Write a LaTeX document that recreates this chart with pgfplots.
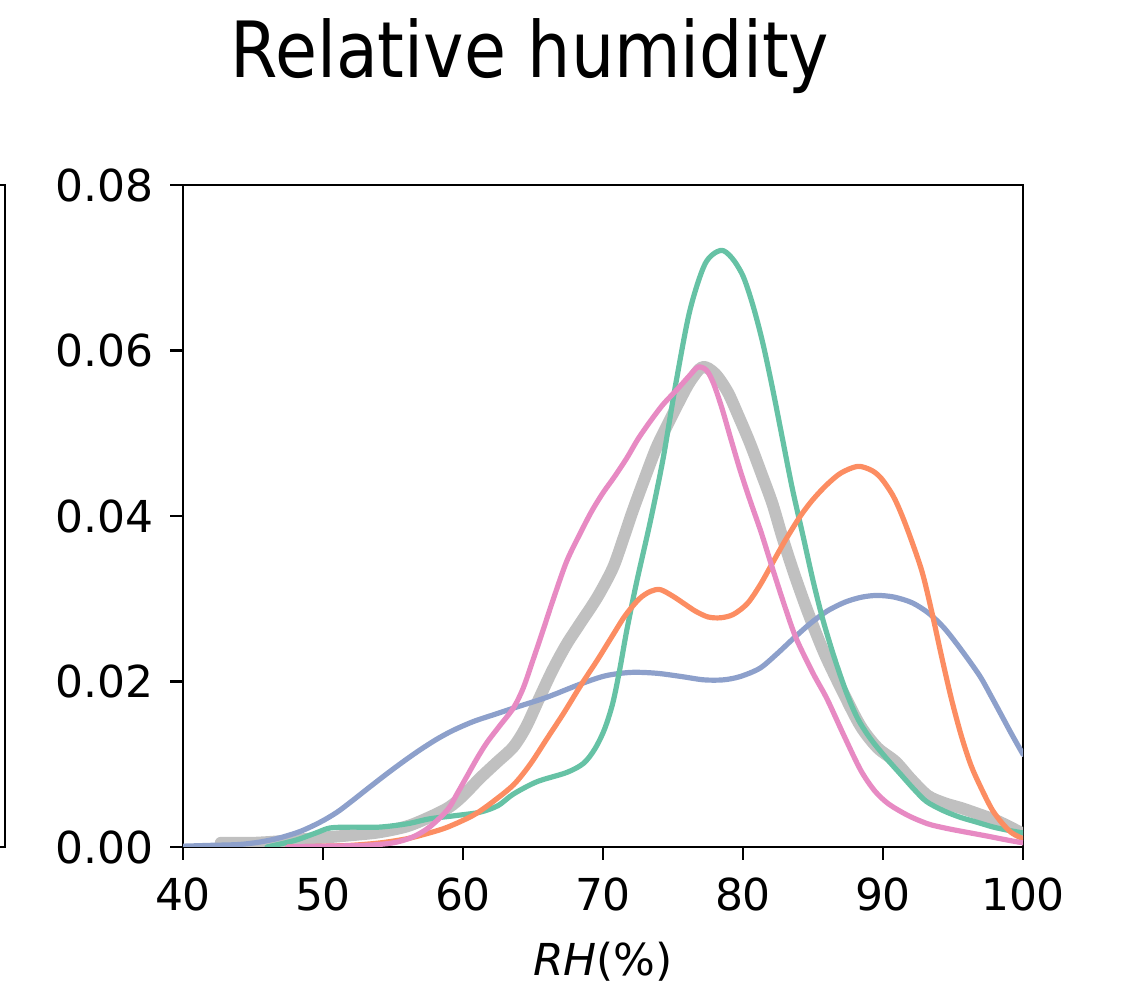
\documentclass[border=0pt]{standalone}
\usepackage{fontspec}
\setmainfont{DejaVu Sans}
\newfontfamily\titlefont[FakeStretch=0.88]{DejaVu Sans}
\usepackage{pgfplots}
\pgfplotsset{compat=1.18}
\definecolor{cgreen}{HTML}{66C2A5}
\definecolor{corange}{HTML}{FC8D62}
\definecolor{cblue}{HTML}{8DA0CB}
\definecolor{cpink}{HTML}{E78AC3}
\definecolor{cgray}{HTML}{C0C0C0}
\begin{document}
\begin{tikzpicture}[x=1pt,y=1pt]
\useasboundingbox (0,0) rectangle (561.5,497);
\node[anchor=base] at (265,458) {\titlefont\fontsize{38.8}{44}\selectfont Relative humidity};
\draw[line width=1.4pt] (0,404.5) -- (2.5,404.5) -- (2.5,73.5) -- (0,73.5);
\begin{axis}[
  at={(91.5pt,73.5pt)}, anchor=south west,
  width=420pt, height=331pt, scale only axis,
  xmin=40, xmax=100, ymin=0, ymax=0.08,
  xtick={40,50,60,70,80,90,100},
  ytick={0,0.02,0.04,0.06,0.08},
  scaled y ticks=false,
  yticklabel style={/pgf/number format/fixed, /pgf/number format/fixed zerofill, /pgf/number format/precision=2},
  /pgf/number format/assume math mode=true,
  tick align=outside, tick pos=left, major tick length=6.5pt,
  axis line style={line width=1.4pt},
  every tick/.style={black, line width=1.4pt},
  ticklabel style={font=\fontsize{22}{25}\selectfont},
  xticklabel style={anchor=base, yshift=-25.5pt},
  yticklabel style={anchor=east, inner sep=0pt, xshift=-8pt},
  xlabel={\textit{RH}(\%)},
  xlabel style={font=\fontsize{22}{25}\selectfont, at={(axis description cs:0.5,0)}, anchor=base, yshift=-64pt},
  every axis plot/.append style={line join=round, line cap=round},
  clip=true,
]
\addplot[cgray, line width=6pt, smooth] coordinates {
(42.7,0.0005)(45,0.0005)(47,0.0007)(49,0.0010)(50.5,0.0012)(52.5,0.0015)(54.1,0.0018)(56,0.0025)(57.6,0.0036)(59,0.0048)(60,0.0062)(61.2,0.0083)(62.4,0.0102)(63.6,0.0121)(64.5,0.0145)(65.4,0.0178)(66.4,0.0214)(67.4,0.0245)(68.4,0.0271)(69.6,0.0302)(70.7,0.0337)(71.4,0.0370)(72.1,0.0405)(72.9,0.0442)(73.8,0.0482)(74.6,0.0510)(75.4,0.0537)(76.2,0.0562)(77.1,0.0580)(78,0.0572)(78.9,0.0550)(79.7,0.0520)(80.5,0.0488)(81.3,0.0452)(82.1,0.0415)(82.8,0.0375)(83.6,0.0333)(84.5,0.0290)(85.3,0.0255)(86,0.0227)(87.2,0.0185)(88.4,0.0146)(89.6,0.0120)(90.9,0.0103)(92,0.0082)(93.2,0.0062)(94.4,0.0053)(95.6,0.0047)(96.8,0.0040)(98.1,0.0032)(99.2,0.0023)(100,0.0016)
};
\addplot[cblue, line width=2.6pt, smooth] coordinates {
(40,0.0001)(42,0.0002)(44,0.0003)(45.5,0.0006)(46.9,0.0011)(48.4,0.0019)(49.8,0.0030)(51,0.0042)(52.1,0.0056)(53.3,0.0072)(54.6,0.0089)(55.8,0.0104)(56.9,0.0117)(58.1,0.0130)(59.3,0.0141)(60.8,0.0152)(62.4,0.0161)(64,0.0170)(66,0.0181)(68.4,0.0197)(70.2,0.0207)(72,0.0211)(73.8,0.0210)(75.6,0.0206)(77.2,0.0202)(78.6,0.0202)(79.8,0.0206)(81.2,0.0216)(82.4,0.0233)(83.6,0.0252)(84.8,0.0270)(86,0.0285)(87.3,0.0296)(88.5,0.0302)(89.6,0.0304)(90.8,0.0302)(92.1,0.0295)(93.3,0.0282)(94.4,0.0264)(95.6,0.0238)(96.9,0.0207)(97.7,0.0183)(98.5,0.0158)(99.2,0.0136)(100,0.0112)
};
\addplot[cgreen, line width=2.6pt, smooth] coordinates {
(46,0)(48,0.0008)(49.5,0.0017)(50.5,0.0023)(52,0.0024)(54,0.0024)(56,0.0028)(57.6,0.0034)(59.5,0.0038)(61.2,0.0042)(62.5,0.0050)(63.6,0.0064)(65.3,0.0079)(67.4,0.0090)(68.6,0.0101)(69.4,0.0118)(70.1,0.0142)(70.7,0.0174)(71.2,0.0215)(71.7,0.0262)(72.4,0.0320)(73.4,0.0395)(74.3,0.0470)(75.2,0.0560)(76.2,0.0648)(77.3,0.0705)(78.4,0.0721)(79.2,0.0712)(80.0,0.0690)(80.7,0.0655)(81.4,0.0610)(82.1,0.0555)(82.8,0.0495)(83.5,0.0435)(84.3,0.0375)(85,0.0322)(85.7,0.0275)(86.5,0.0230)(87.4,0.0186)(88.2,0.0155)(89.1,0.0131)(90.2,0.0108)(91.2,0.0089)(92.2,0.0070)(93.1,0.0055)(94.3,0.0044)(95.5,0.0036)(96.7,0.0030)(97.9,0.0024)(99,0.0020)(100,0.0017)
};
\addplot[corange, line width=2.6pt, smooth] coordinates {
(47.5,0)(50,0.0001)(52,0.0002)(54.1,0.0005)(56,0.0010)(57.6,0.0017)(58.9,0.0024)(60.7,0.0038)(62,0.0053)(63.6,0.0075)(64.8,0.0100)(66,0.0131)(67.2,0.0162)(68.4,0.0195)(69.6,0.0226)(70.7,0.0256)(71.6,0.0280)(72.6,0.0300)(73.4,0.0309)(74.1,0.0311)(75,0.0303)(75.8,0.0294)(76.6,0.0285)(77.5,0.0278)(78.4,0.0277)(79.3,0.0281)(80.3,0.0294)(81.2,0.0316)(82.1,0.0343)(83,0.0370)(84.1,0.0400)(85,0.0420)(86,0.0438)(87,0.0452)(88.2,0.0460)(89.2,0.0455)(89.9,0.0445)(90.7,0.0425)(91.3,0.0403)(92,0.0372)(92.8,0.0332)(93.5,0.0283)(94.2,0.0229)(94.9,0.0178)(95.6,0.0134)(96.3,0.0098)(97.1,0.0068)(97.8,0.0045)(98.5,0.0029)(99.2,0.0017)(100,0.0010)
};
\addplot[cpink, line width=2.6pt, smooth] coordinates {
(47.5,0)(50,0.0001)(53,0.0002)(55,0.0005)(56.4,0.0012)(57.6,0.0024)(58.9,0.0045)(59.6,0.0065)(60.3,0.0086)(61.0,0.0107)(61.7,0.0126)(62.6,0.0146)(63.6,0.0168)(64.3,0.0192)(65,0.0226)(65.7,0.0261)(66.4,0.0297)(67.4,0.0345)(68.4,0.0380)(69.2,0.0406)(70,0.0428)(70.8,0.0447)(71.7,0.0470)(72.5,0.0493)(73.4,0.0515)(74.3,0.0535)(75.3,0.0553)(76.2,0.0570)(76.8,0.0580)(77.4,0.0576)(77.9,0.0560)(78.5,0.0530)(79.1,0.0495)(79.8,0.0455)(80.5,0.0419)(81.3,0.0380)(82.1,0.0337)(83,0.0290)(83.8,0.0252)(85,0.0210)(86,0.0179)(87.2,0.0135)(88.4,0.0093)(89.4,0.0068)(90.4,0.0052)(91.8,0.0038)(93.2,0.0028)(94.4,0.0023)(95.6,0.0019)(97.5,0.0013)(99,0.0008)(100,0.0005)
};
\end{axis}
\end{tikzpicture}
\end{document}
